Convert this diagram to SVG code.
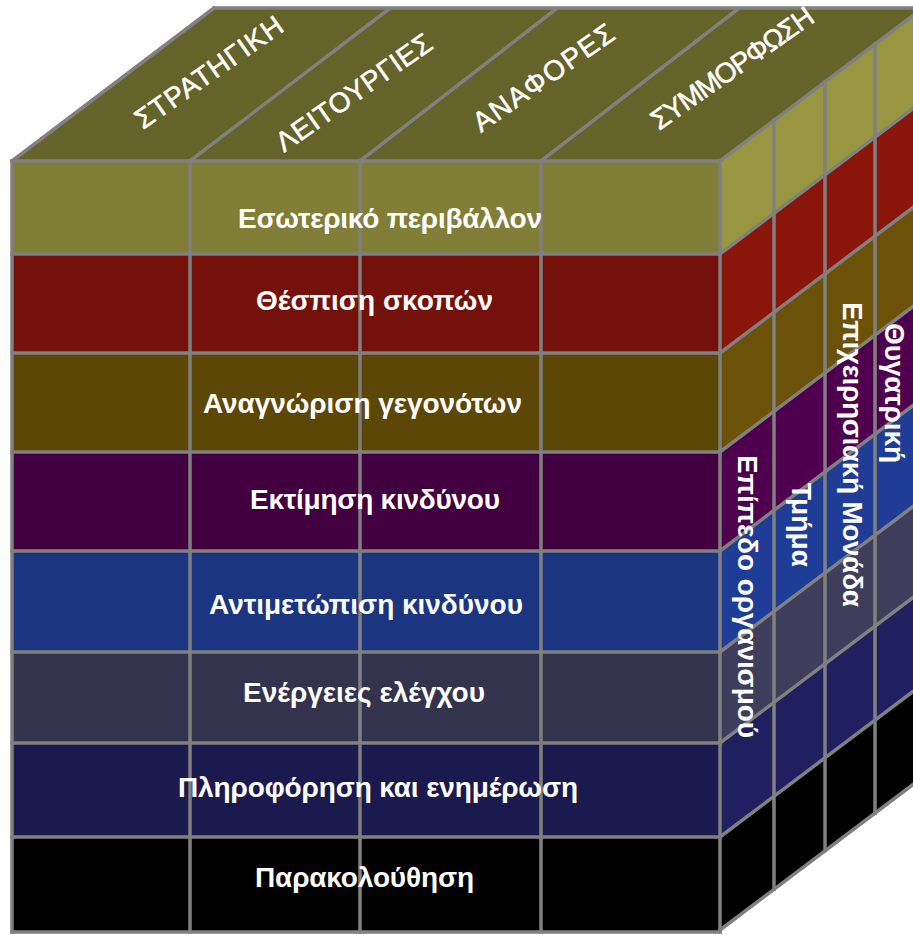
<svg xmlns="http://www.w3.org/2000/svg" width="913" height="935" viewBox="0 0 913 935">
  <style>
    .lbl { font-family: "Liberation Sans", Arial, "DejaVu Sans", sans-serif; fill: #ffffff; }
    .row { font-size: 28px; font-weight: bold; text-anchor: middle; }
    .lvl { font-size: 28px; font-weight: bold; }
    .obj { font-size: 28px; stroke: #ffffff; stroke-width: 0.5; }
    .grid { stroke: #808080; stroke-width: 3.5; fill: none; stroke-linecap: square; }
  </style>
  <rect width="913" height="935" fill="#ffffff"/>

  <!-- top face -->
  <g id="top-face">
    <polygon points="12,161 214,8 923,8 720,161" fill="#646329"/>
  </g>

  <!-- component rows: front strip + side strip -->
  <g id="row-internal-environment">
    <rect x="12" y="161" width="708" height="93" fill="#817f37"/>
    <polygon points="720,161 923,8 923,101 720,254" fill="#989641"/>
  </g>
  <g id="row-objective-setting">
    <rect x="12" y="254" width="708" height="99" fill="#73110a"/>
    <polygon points="720,254 923,101 923,200 720,353" fill="#8a150b"/>
  </g>
  <g id="row-event-identification">
    <rect x="12" y="353" width="708" height="99" fill="#5c4706"/>
    <polygon points="720,353 923,200 923,299 720,452" fill="#6c5209"/>
  </g>
  <g id="row-risk-assessment">
    <rect x="12" y="452" width="708" height="99" fill="#430041"/>
    <polygon points="720,452 923,299 923,398 720,551" fill="#4e004e"/>
  </g>
  <g id="row-risk-response">
    <rect x="12" y="551" width="708" height="101" fill="#1b3580"/>
    <polygon points="720,551 923,398 923,499 720,652" fill="#1f3d96"/>
  </g>
  <g id="row-control-activities">
    <rect x="12" y="652" width="708" height="91" fill="#34334e"/>
    <polygon points="720,652 923,499 923,590 720,743" fill="#3e3d5c"/>
  </g>
  <g id="row-information-communication">
    <rect x="12" y="743" width="708" height="94" fill="#1b1a4e"/>
    <polygon points="720,743 923,590 923,684 720,837" fill="#201f5f"/>
  </g>
  <g id="row-monitoring">
    <rect x="12" y="837" width="708" height="95" fill="#000000"/>
    <polygon points="720,837 923,684 923,777 720,930" fill="#000000"/>
  </g>

  <!-- cube grid lines -->
  <g id="connectors" class="grid">
    <!-- front horizontals -->
    <path d="M12,161H720 M12,254H720 M12,353H720 M12,452H720 M12,551H720 M12,652H720 M12,743H720 M12,837H720 M12,932H720"/>
    <!-- front verticals -->
    <path d="M12,161V932 M190,161V932 M360,161V932 M541,161V932 M720,161V932"/>
    <!-- top face -->
    <path d="M12,161L214,8 M190,161L389,9 M360,161L556,9 M541,161L738,9 M720,161L923,8 M214,8H913"/>
    <!-- side face slants -->
    <path d="M720,254L923,101 M720,353L923,200 M720,452L923,299 M720,551L923,398 M720,652L923,499 M720,743L923,590 M720,837L923,684 M720,930L923,777"/>
    <!-- side face verticals -->
    <path d="M774,120.3V889.3 M825,81.8V850.8 M875,44.1V813.1"/>
  </g>

  <!-- row labels -->
  <g id="row-labels" class="lbl row">
    <text x="390" y="228" textLength="304" lengthAdjust="spacing">Εσωτερικό περιβάλλον</text>
    <text x="374.5" y="310" textLength="237" lengthAdjust="spacing">Θέσπιση σκοπών</text>
    <text x="362.5" y="413" textLength="319" lengthAdjust="spacing">Αναγνώριση γεγονότων</text>
    <text x="375" y="509" textLength="250" lengthAdjust="spacing">Εκτίμηση κινδύνου</text>
    <text x="366" y="614" textLength="314" lengthAdjust="spacing">Αντιμετώπιση κινδύνου</text>
    <text x="364" y="702" textLength="242" lengthAdjust="spacing">Ενέργειες ελέγχου</text>
    <text x="378" y="797" textLength="400" lengthAdjust="spacing">Πληροφόρηση και ενημέρωση</text>
    <text x="364.5" y="887" textLength="219" lengthAdjust="spacing">Παρακολούθηση</text>
  </g>

  <!-- objective columns on the top face -->
  <g id="col-strategic" class="lbl obj">
    <text transform="translate(143,130) rotate(-35)" textLength="174" lengthAdjust="spacing">ΣΤΡΑΤΗΓΙΚΗ</text>
  </g>
  <g id="col-operations" class="lbl obj">
    <text transform="translate(284,153) rotate(-35)" textLength="184" lengthAdjust="spacing">ΛΕΙΤΟΥΡΓΙΕΣ</text>
  </g>
  <g id="col-reporting" class="lbl obj">
    <text transform="translate(481,133) rotate(-35)" textLength="166" lengthAdjust="spacing">ΑΝΑΦΟΡΕΣ</text>
  </g>
  <g id="col-compliance" class="lbl obj">
    <text transform="translate(659,131) rotate(-35)" textLength="192" lengthAdjust="spacing">ΣΥΜΜΟΡΦΩΣΗ</text>
  </g>

  <!-- organisational levels on the side face -->
  <g id="lvl-entity" class="lbl lvl">
    <text transform="translate(738,455) rotate(90)" textLength="283" lengthAdjust="spacing">Επίπεδο οργανισμού</text>
  </g>
  <g id="lvl-division" class="lbl lvl">
    <text transform="translate(792,483) rotate(90)" textLength="84" lengthAdjust="spacing">Τμήμα</text>
  </g>
  <g id="lvl-business-unit" class="lbl lvl">
    <text transform="translate(843,302) rotate(90)" textLength="305" lengthAdjust="spacing">Επιχειρησιακή Μονάδα</text>
  </g>
  <g id="lvl-subsidiary" class="lbl lvl">
    <text transform="translate(885,323) rotate(90)" textLength="140" lengthAdjust="spacing">Θυγατρική</text>
  </g>
</svg>
